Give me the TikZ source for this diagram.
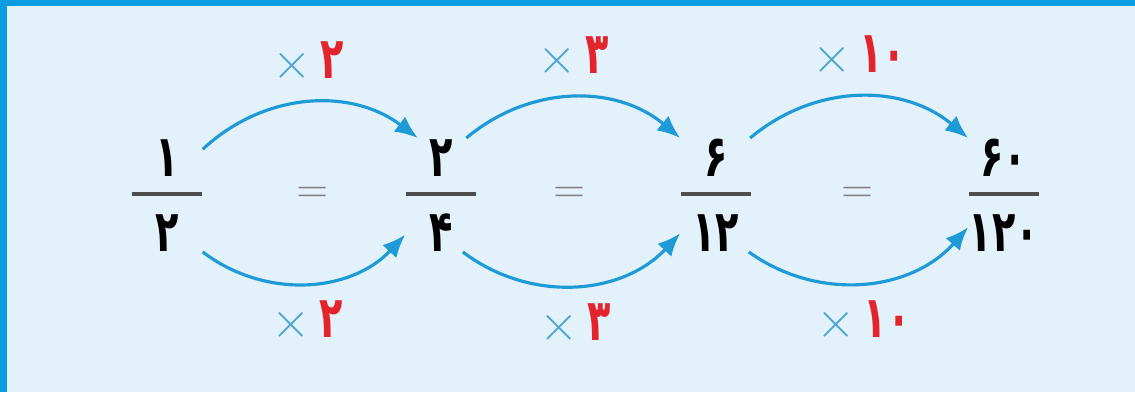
\documentclass[tikz,border=0pt]{standalone}
\usepackage{fontspec}
\newfontfamily\fadigits[Script=Arabic,FakeStretch=0.66]{DejaVu Sans}
\usetikzlibrary{arrows.meta,positioning}

\definecolor{pagebg}{HTML}{E3F1FB}
\definecolor{edgeblue}{HTML}{0A9BE0}
\definecolor{arrowblue}{HTML}{1E9BD7}
\definecolor{timesblue}{HTML}{4DA6CF}
\definecolor{factorred}{HTML}{E3242B}
\definecolor{bargray}{HTML}{4D4D4D}
\definecolor{eqgray}{HTML}{808080}

\newcommand{\fa}[1]{{\fadigits\bfseries\fontsize{16.5}{19}\selectfont #1}}
\newcommand{\digitrow}[1]{\hbox to 7mm{\hss\fa{\vphantom{۱۲۴۶}#1}\hss}}
\newcommand{\fracstack}[2]{\vbox{\offinterlineskip
  \digitrow{#1}\kern1.6mm
  \hbox{\color{bargray}\vrule width 7mm height .9pt}\kern1.8mm
  \digitrow{#2}}}
\newcommand{\timesby}[1]{{\color{timesblue}$\times$}\,{\color{factorred}\fa{#1}}}

\begin{document}
\begin{tikzpicture}[
  frac/.style={inner sep=0pt},
  eqsign/.style={inner sep=0pt, text=eqgray, font=\fontsize{12}{14}\selectfont},
  timeslabel/.style={inner sep=1pt, font=\fontsize{14}{16}\selectfont},
  mularrow/.style={-{Latex[length=2.3mm,width=1.9mm]}, line width=.9pt, draw=arrowblue}
]
\fill[pagebg] (0,0) rectangle (11.35,3.92);
\fill[edgeblue] (0,3.86) rectangle (11.35,3.92);
\fill[edgeblue] (0,0) rectangle (0.07,3.92);
\useasboundingbox (0,0) rectangle (11.35,3.92);

\node[frac] (f12) at (1.67,1.97) {\fracstack{۱}{۲}};
\node[eqsign, right=9.3mm of f12] (eq1) {=};
\node[frac, right=7.6mm of eq1] (f24) {\fracstack{۲}{۴}};
\node[eqsign, right=7.6mm of f24] (eq2) {=};
\node[frac, right=9.4mm of eq2] (f612) {\fracstack{۶}{۱۲}};
\node[eqsign, right=8.9mm of f612] (eq3) {=};
\node[frac, right=9.4mm of eq3] (f60120) {\fracstack{۶۰}{۱۲۰}};

\draw[mularrow] (f12.52) to[bend left=40]
  node[timeslabel, above=1.5mm] (top1) {\timesby{۲}} (f24.112);
\draw[mularrow] (f12.south east) to[bend right=42]
  node[timeslabel, below=1.3mm] (bot1) {\timesby{۲}} (f24.228);
\draw[mularrow] (f24.66) to[bend left=40]
  node[timeslabel, above=1.5mm] (top2) {\timesby{۳}} (f612.north west);
\draw[mularrow] (f24.291) to[bend right=42]
  node[timeslabel, below=1.3mm] (bot2) {\timesby{۳}} (f612.227);
\draw[mularrow] (f612.59) to[bend left=40]
  node[timeslabel, above=1.5mm] (top3) {\timesby{۱۰}} (f60120.north west);
\draw[mularrow] (f612.300) to[bend right=42]
  node[timeslabel, below=1.3mm] (bot3) {\timesby{۱۰}} (f60120.222);

\end{tikzpicture}
\end{document}
